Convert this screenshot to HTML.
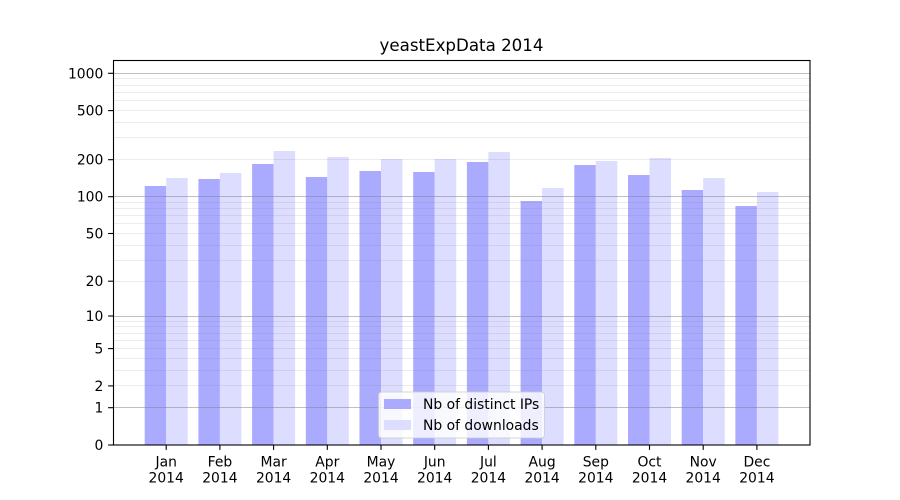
<!DOCTYPE html>
<html>
<head>
<meta charset="utf-8">
<style>
  html, body { margin:0; padding:0; background:#fff; }
  svg { display:block; }
  text { font-family: "DejaVu Sans", "Liberation Sans", sans-serif; fill:#000; }
</style>
</head>
<body>
<svg width="900" height="500" viewBox="0 0 900 500" xmlns="http://www.w3.org/2000/svg">
  <rect x="0" y="0" width="900" height="500" fill="#fff"/>

  <!-- Bars -->
  <g>
    <rect x="144.7" y="186" width="21.5" height="259" fill="#aaaaff"/>
    <rect x="166.2" y="178" width="21.5" height="267" fill="#ddddff"/>
    <rect x="198.4" y="179" width="21.5" height="266" fill="#aaaaff"/>
    <rect x="219.9" y="173" width="21.5" height="272" fill="#ddddff"/>
    <rect x="252.1" y="164" width="21.5" height="281" fill="#aaaaff"/>
    <rect x="273.6" y="151" width="21.5" height="294" fill="#ddddff"/>
    <rect x="305.8" y="177" width="21.5" height="268" fill="#aaaaff"/>
    <rect x="327.3" y="157" width="21.5" height="288" fill="#ddddff"/>
    <rect x="359.5" y="171" width="21.5" height="274" fill="#aaaaff"/>
    <rect x="381.0" y="159" width="21.5" height="286" fill="#ddddff"/>
    <rect x="413.2" y="172" width="21.5" height="273" fill="#aaaaff"/>
    <rect x="434.7" y="159" width="21.5" height="286" fill="#ddddff"/>
    <rect x="466.9" y="162" width="21.5" height="283" fill="#aaaaff"/>
    <rect x="488.4" y="152" width="21.5" height="293" fill="#ddddff"/>
    <rect x="520.6" y="201" width="21.5" height="244" fill="#aaaaff"/>
    <rect x="542.1" y="188" width="21.5" height="257" fill="#ddddff"/>
    <rect x="574.3" y="165" width="21.5" height="280" fill="#aaaaff"/>
    <rect x="595.8" y="161" width="21.5" height="284" fill="#ddddff"/>
    <rect x="628.0" y="175" width="21.5" height="270" fill="#aaaaff"/>
    <rect x="649.5" y="158" width="21.5" height="287" fill="#ddddff"/>
    <rect x="681.7" y="190" width="21.5" height="255" fill="#aaaaff"/>
    <rect x="703.2" y="178" width="21.5" height="267" fill="#ddddff"/>
    <rect x="735.4" y="206" width="21.5" height="239" fill="#aaaaff"/>
    <rect x="756.9" y="192" width="21.5" height="253" fill="#ddddff"/>
  </g>

  <!-- Minor gridlines -->
  <g stroke="#808080" stroke-opacity="0.15" stroke-width="1">
    <line x1="113" x2="810" y1="385.5" y2="385.5"/>
    <line x1="113" x2="810" y1="370.5" y2="370.5"/>
    <line x1="113" x2="810" y1="358.5" y2="358.5"/>
    <line x1="113" x2="810" y1="348.5" y2="348.5"/>
    <line x1="113" x2="810" y1="340.5" y2="340.5"/>
    <line x1="113" x2="810" y1="333.5" y2="333.5"/>
    <line x1="113" x2="810" y1="326.5" y2="326.5"/>
    <line x1="113" x2="810" y1="321.5" y2="321.5"/>
    <line x1="113" x2="810" y1="281.5" y2="281.5"/>
    <line x1="113" x2="810" y1="260.5" y2="260.5"/>
    <line x1="113" x2="810" y1="245.5" y2="245.5"/>
    <line x1="113" x2="810" y1="233.5" y2="233.5"/>
    <line x1="113" x2="810" y1="223.5" y2="223.5"/>
    <line x1="113" x2="810" y1="215.5" y2="215.5"/>
    <line x1="113" x2="810" y1="208.5" y2="208.5"/>
    <line x1="113" x2="810" y1="202.5" y2="202.5"/>
    <line x1="113" x2="810" y1="159.5" y2="159.5"/>
    <line x1="113" x2="810" y1="137.5" y2="137.5"/>
    <line x1="113" x2="810" y1="122.5" y2="122.5"/>
    <line x1="113" x2="810" y1="110.5" y2="110.5"/>
    <line x1="113" x2="810" y1="100.5" y2="100.5"/>
    <line x1="113" x2="810" y1="92.5" y2="92.5"/>
    <line x1="113" x2="810" y1="85.5" y2="85.5"/>
    <line x1="113" x2="810" y1="78.5" y2="78.5"/>
  </g>

  <!-- Major gridlines -->
  <g stroke="#808080" stroke-opacity="0.5" stroke-width="1">
    <line x1="113" x2="810" y1="407.5" y2="407.5"/>
    <line x1="113" x2="810" y1="316.5" y2="316.5"/>
    <line x1="113" x2="810" y1="196.5" y2="196.5"/>
    <line x1="113" x2="810" y1="73.5" y2="73.5"/>
  </g>

  <!-- Axes frame -->
  <rect x="113.5" y="60.5" width="696.5" height="384.5" fill="none" stroke="#000" stroke-width="1.1"/>

  <!-- Y ticks -->
  <g stroke="#000" stroke-width="1.1">
    <line x1="108.1" x2="113" y1="445" y2="445"/>
    <line x1="108.1" x2="113" y1="407.7" y2="407.7"/>
    <line x1="108.1" x2="113" y1="385.9" y2="385.9"/>
    <line x1="108.1" x2="113" y1="348.6" y2="348.6"/>
    <line x1="108.1" x2="113" y1="316" y2="316"/>
    <line x1="108.1" x2="113" y1="281.2" y2="281.2"/>
    <line x1="108.1" x2="113" y1="233.5" y2="233.5"/>
    <line x1="108.1" x2="113" y1="196.7" y2="196.7"/>
    <line x1="108.1" x2="113" y1="159.7" y2="159.7"/>
    <line x1="108.1" x2="113" y1="110.6" y2="110.6"/>
    <line x1="108.1" x2="113" y1="73.3" y2="73.3"/>
  </g>
  <g font-size="13.89" text-anchor="end">
    <text x="103.3" y="450">0</text>
    <text x="103.3" y="412.7">1</text>
    <text x="103.3" y="390.9">2</text>
    <text x="103.3" y="353.6">5</text>
    <text x="103.3" y="321">10</text>
    <text x="103.3" y="286.2">20</text>
    <text x="103.3" y="238.5">50</text>
    <text x="103.3" y="201.7">100</text>
    <text x="103.3" y="164.7">200</text>
    <text x="103.3" y="115.6">500</text>
    <text x="103.3" y="78.3">1000</text>
  </g>

  <!-- X ticks -->
  <g stroke="#000" stroke-width="1.1">
    <line x1="166.2" x2="166.2" y1="445" y2="449.9"/>
    <line x1="219.9" x2="219.9" y1="445" y2="449.9"/>
    <line x1="273.6" x2="273.6" y1="445" y2="449.9"/>
    <line x1="327.3" x2="327.3" y1="445" y2="449.9"/>
    <line x1="381.0" x2="381.0" y1="445" y2="449.9"/>
    <line x1="434.7" x2="434.7" y1="445" y2="449.9"/>
    <line x1="488.4" x2="488.4" y1="445" y2="449.9"/>
    <line x1="542.1" x2="542.1" y1="445" y2="449.9"/>
    <line x1="595.8" x2="595.8" y1="445" y2="449.9"/>
    <line x1="649.5" x2="649.5" y1="445" y2="449.9"/>
    <line x1="703.2" x2="703.2" y1="445" y2="449.9"/>
    <line x1="756.9" x2="756.9" y1="445" y2="449.9"/>
  </g>
  <g font-size="13.89" text-anchor="middle">
    <text x="166.2" y="466.5">Jan</text><text x="166.2" y="482.5">2014</text>
    <text x="219.9" y="466.5">Feb</text><text x="219.9" y="482.5">2014</text>
    <text x="273.6" y="466.5">Mar</text><text x="273.6" y="482.5">2014</text>
    <text x="327.3" y="466.5">Apr</text><text x="327.3" y="482.5">2014</text>
    <text x="381.0" y="466.5">May</text><text x="381.0" y="482.5">2014</text>
    <text x="434.7" y="466.5">Jun</text><text x="434.7" y="482.5">2014</text>
    <text x="488.4" y="466.5">Jul</text><text x="488.4" y="482.5">2014</text>
    <text x="542.1" y="466.5">Aug</text><text x="542.1" y="482.5">2014</text>
    <text x="595.8" y="466.5">Sep</text><text x="595.8" y="482.5">2014</text>
    <text x="649.5" y="466.5">Oct</text><text x="649.5" y="482.5">2014</text>
    <text x="703.2" y="466.5">Nov</text><text x="703.2" y="482.5">2014</text>
    <text x="756.9" y="466.5">Dec</text><text x="756.9" y="482.5">2014</text>
  </g>

  <!-- Title -->
  <text x="461.5" y="51" font-size="16.67" text-anchor="middle">yeastExpData 2014</text>

  <!-- Legend -->
  <rect x="378.5" y="392" width="166" height="46" rx="3" ry="3" fill="#ffffff" fill-opacity="0.8" stroke="#cccccc" stroke-opacity="0.8" stroke-width="1"/>
  <rect x="384" y="399" width="27" height="10" fill="#aaaaff"/>
  <rect x="384" y="420" width="27" height="10" fill="#ddddff"/>
  <g font-size="13.89">
    <text x="423" y="409">Nb of distinct IPs</text>
    <text x="423" y="430">Nb of downloads</text>
  </g>
</svg>
</body>
</html>
